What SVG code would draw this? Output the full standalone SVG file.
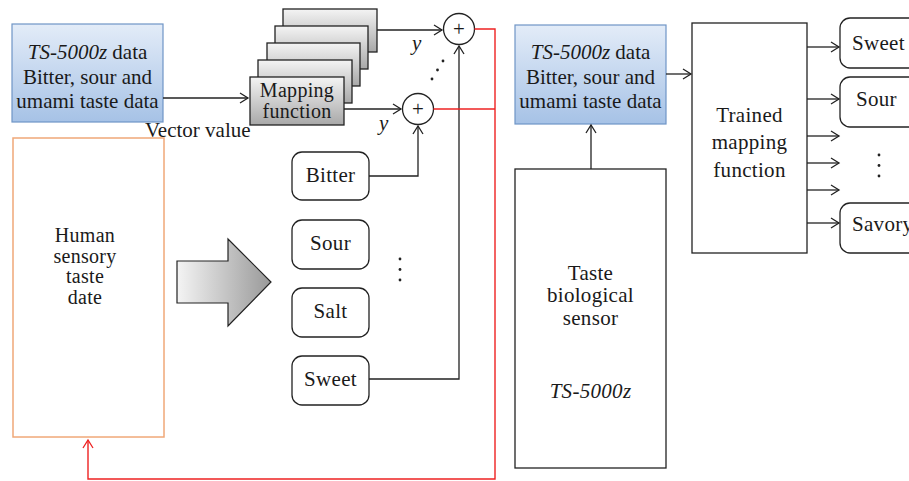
<svg xmlns="http://www.w3.org/2000/svg" width="909" height="481" viewBox="0 0 909 481">
<defs>
<linearGradient id="blue" x1="0" y1="0" x2="0" y2="1">
<stop offset="0" stop-color="#e3ecf8"/>
<stop offset="1" stop-color="#a6c2e6"/>
</linearGradient>
<linearGradient id="grayv" x1="0" y1="0" x2="0" y2="1">
<stop offset="0" stop-color="#f4f4f4"/>
<stop offset="1" stop-color="#a8a8a8"/>
</linearGradient>
<linearGradient id="grayh" x1="0" y1="0" x2="1" y2="0">
<stop offset="0" stop-color="#f4f4f4"/>
<stop offset="1" stop-color="#999999"/>
</linearGradient>
<marker id="ah" markerUnits="userSpaceOnUse" markerWidth="12" markerHeight="14" refX="9" refY="6" orient="auto">
<path d="M1,1 L9,6 L1,11" fill="none" stroke="#222" stroke-width="1.3"/>
</marker>
<marker id="ahr" markerUnits="userSpaceOnUse" markerWidth="12" markerHeight="14" refX="9" refY="6" orient="auto">
<path d="M1,1 L9,6 L1,11" fill="none" stroke="#ee2222" stroke-width="1.3"/>
</marker>
</defs>
<style>
text{font-family:"Liberation Serif","Times New Roman",serif;font-size:21px;letter-spacing:0.3px;fill:#1a1a1a}
.c{text-anchor:middle}
.i{font-style:italic}
.t{letter-spacing:0}
.h{font-size:20px}
.blue{fill:url(#blue);stroke:#6f95c6;stroke-width:1.2}
.box{fill:#fff;stroke:#222;stroke-width:1.3}
.stk{fill:url(#grayv);stroke:#222;stroke-width:1.3}
.ln{fill:none;stroke:#222;stroke-width:1.3}
.red{fill:none;stroke:#ee2222;stroke-width:1.4}
</style>
<rect width="909" height="481" fill="#fff"/>

<g id="ts-data-left">
<rect class="blue" x="12" y="24" width="151" height="98"/>
<text class="c t" x="87.5" y="59"><tspan class="i">TS-5000z</tspan> data</text>
<text class="c t" x="87.5" y="84">Bitter, sour and</text>
<text class="c t" x="87.5" y="108">umami taste data</text>
</g>

<g id="vector-value">
<text class="t" x="145" y="137">Vector value</text>
</g>

<g id="mapping-function">
<rect class="stk" x="283" y="9" width="94" height="43"/>
<rect class="stk" x="275" y="26" width="93" height="43"/>
<rect class="stk" x="267" y="43" width="93" height="43"/>
<rect class="stk" x="258" y="60" width="94" height="43"/>
<rect class="stk" x="250" y="77" width="94" height="48"/>
<text class="c h" x="297" y="96.5">Mapping</text>
<text class="c h" x="297" y="118">function</text>
</g>

<g id="sum-top">
<circle class="box" cx="459" cy="29" r="15.5"/>
<text class="c" x="459" y="36">+</text>
</g>
<g id="sum-bottom">
<circle class="box" cx="418" cy="109" r="15.5"/>
<text class="c" x="418" y="116">+</text>
</g>

<g id="y-labels">
<text class="i" x="412" y="50">y</text>
<text class="i" x="379" y="130">y</text>
</g>

<g id="diag-dots" fill="#222">
<circle cx="443" cy="61" r="1.4"/>
<circle cx="437.5" cy="70" r="1.4"/>
<circle cx="432" cy="79" r="1.4"/>
</g>

<g id="human-sensory">
<rect x="13" y="138" width="151" height="299" fill="#fff" stroke="#f0a878" stroke-width="1.5"/>
<text class="c h" x="85" y="242">Human</text>
<text class="c h" x="85" y="262.5">sensory</text>
<text class="c h" x="85" y="283">taste</text>
<text class="c h" x="85" y="303.5">date</text>
</g>

<g id="big-arrow">
<polygon points="177,261 228,261 228,239 271,282 228,326 228,303 177,303" fill="url(#grayh)" stroke="#222" stroke-width="1.2"/>
</g>

<g id="bitter">
<rect class="box" x="292" y="152" width="77" height="48" rx="10"/>
<text class="c" x="330.5" y="182">Bitter</text>
</g>
<g id="sour-left">
<rect class="box" x="292" y="220" width="77" height="49" rx="10"/>
<text class="c" x="330.5" y="250">Sour</text>
</g>
<g id="salt">
<rect class="box" x="292" y="288" width="77" height="49" rx="10"/>
<text class="c" x="330.5" y="318">Salt</text>
</g>
<g id="sweet-left">
<rect class="box" x="292" y="356" width="77" height="49" rx="10"/>
<text class="c" x="330.5" y="386">Sweet</text>
</g>
<g id="vdots-left" fill="#222">
<circle cx="400" cy="259" r="1.4"/>
<circle cx="400" cy="269.5" r="1.4"/>
<circle cx="400" cy="280" r="1.4"/>
</g>

<g id="ts-data-right">
<rect class="blue" x="515" y="25" width="151" height="99"/>
<text class="c t" x="590.5" y="59"><tspan class="i">TS-5000z</tspan> data</text>
<text class="c t" x="590.5" y="84">Bitter, sour and</text>
<text class="c t" x="590.5" y="108">umami taste data</text>
</g>

<g id="sensor">
<rect class="box" x="515" y="169" width="151" height="299"/>
<text class="c" x="590.5" y="280">Taste</text>
<text class="c" x="590.5" y="302">biological</text>
<text class="c" x="590.5" y="325">sensor</text>
<text class="c i" x="590.5" y="398">TS-5000z</text>
</g>

<g id="trained">
<rect class="box" x="692" y="23" width="115" height="230"/>
<text class="c" x="749.5" y="122">Trained</text>
<text class="c" x="749.5" y="149">mapping</text>
<text class="c" x="749.5" y="177">function</text>
</g>

<g id="sweet-right">
<rect class="box" x="840" y="18" width="80" height="50" rx="10"/>
<text x="852" y="50">Sweet</text>
</g>
<g id="sour-right">
<rect class="box" x="840" y="77" width="80" height="50" rx="10"/>
<text x="856" y="106">Sour</text>
</g>
<g id="savory">
<rect class="box" x="840" y="203" width="80" height="50" rx="10"/>
<text x="852" y="231">Savory</text>
</g>
<g id="vdots-right" fill="#222">
<circle cx="879" cy="155" r="1.4"/>
<circle cx="879" cy="165.5" r="1.4"/>
<circle cx="879" cy="176" r="1.4"/>
</g>

<g id="connectors">
<line class="ln" x1="163" y1="98" x2="248" y2="98" marker-end="url(#ah)"/>
<line class="ln" x1="377" y1="30" x2="442" y2="30" marker-end="url(#ah)"/>
<line class="ln" x1="344" y1="109" x2="401" y2="109" marker-end="url(#ah)"/>
<polyline class="ln" points="369,176 418,176 418,126" marker-end="url(#ah)"/>
<polyline class="ln" points="369,379 459,379 459,46" marker-end="url(#ah)"/>
<polyline class="red" points="474.5,29 495,29 495,479 88,479 88,440" marker-end="url(#ahr)"/>
<line class="red" x1="433.5" y1="109" x2="495" y2="109"/>
<line class="ln" x1="591" y1="169" x2="591" y2="125" marker-end="url(#ah)"/>
<line class="ln" x1="666" y1="74" x2="691" y2="74" marker-end="url(#ah)"/>
<line class="ln" x1="807" y1="47" x2="839" y2="47" marker-end="url(#ah)"/>
<line class="ln" x1="807" y1="99" x2="839" y2="99" marker-end="url(#ah)"/>
<line class="ln" x1="807" y1="136" x2="839" y2="136" marker-end="url(#ah)"/>
<line class="ln" x1="807" y1="163" x2="839" y2="163" marker-end="url(#ah)"/>
<line class="ln" x1="807" y1="190" x2="839" y2="190" marker-end="url(#ah)"/>
<line class="ln" x1="807" y1="223" x2="839" y2="223" marker-end="url(#ah)"/>
</g>
</svg>
